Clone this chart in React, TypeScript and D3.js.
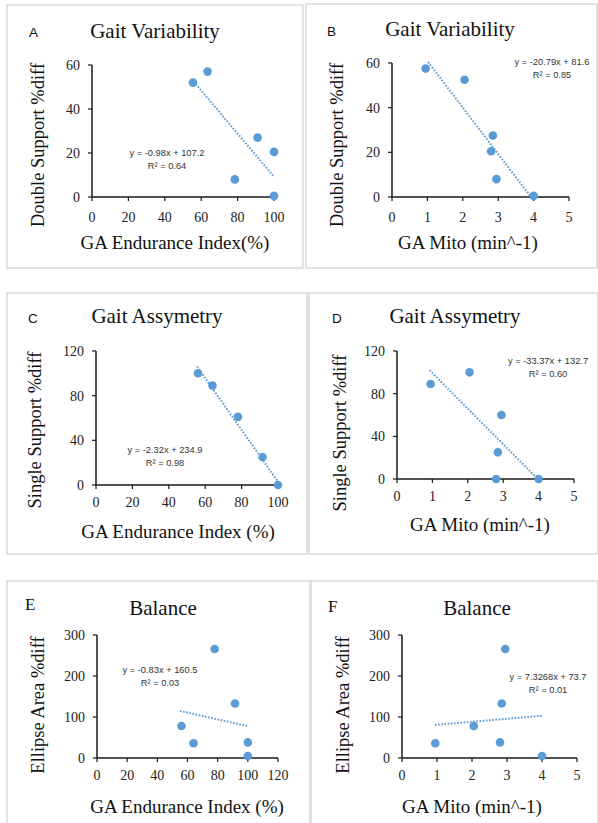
import React from "react";
import * as d3 from "d3";

// values
const enduranceA = [55.5, 63.5, 78.5, 91, 100, 100];
const doubleSupportA = [52, 57, 8, 27, 20.5, 0.5];
const mitoB = [0.95, 2.05, 2.85, 2.8, 2.95, 4];
const doubleSupportB = [57.5, 52.5, 27.5, 20.5, 8, 0.5];
const enduranceC = [56, 64, 78, 91.5, 100];
const singleSupportC = [100, 89, 61, 25, 0];
const mitoD = [0.95, 2.05, 2.95, 2.85, 2.8, 4];
const singleSupportD = [89, 100, 60, 25, 0, 0];
const enduranceE = [56, 64, 78, 91.5, 100, 100];
const ellipseE = [78, 36, 266, 133, 38, 5];
const mitoF = [0.95, 2.05, 2.95, 2.85, 2.8, 4];
const ellipseF = [36, 78, 266, 133, 38, 5];

const ticksEndurance = [0, 20, 40, 60, 80, 100];
const ticksEndurance120 = [0, 20, 40, 60, 80, 100, 120];
const ticksMito = [0, 1, 2, 3, 4, 5];
const ticks60 = [0, 20, 40, 60];
const ticks120 = [0, 40, 80, 120];
const ticks300 = [0, 100, 200, 300];

const equations = [
  ["y = -0.98x + 107.2", "R² = 0.64"],
  ["y = -20.79x + 81.6", "R² = 0.85"],
  ["y = -2.32x + 234.9", "R² = 0.98"],
  ["y = -33.37x + 132.7", "R² = 0.60"],
  ["y = -0.83x + 160.5", "R² = 0.03"],
  ["y = 7.3268x  + 73.7", "R² = 0.01"],
];
const fits = [
  [-0.98, 107.2, 57, 100],
  [-20.79, 81.6, 1.02, 3.93],
  [-2.32, 234.9, 55.5, 100],
  [-33.37, 132.7, 0.92, 3.97],
  [-0.83, 160.5, 55, 99.5],
  [7.3268, 73.7, 0.94, 4.02],
];

const SERIF = "'Liberation Serif', 'Times New Roman', serif";
const SANS = "'Liberation Sans', Arial, sans-serif";
const BLUE = "#5b9bd5";

type PanelCfg = {
  letter: string;
  letterFont: string;
  letterPos: [number, number];
  box: [number, number, number, number];
  title: string;
  titlePos: [number, number];
  xs: number[];
  ys: number[];
  xTicks: number[];
  yTicks: number[];
  xRange: [number, number];
  yRange: [number, number];
  xLabel: string;
  xLabelPos: [number, number];
  yLabel: string;
  yLabelPos: [number, number];
  eqPos: [number, number];
  tickGap: number;
};

const panels: PanelCfg[] = [
  {
    letter: "A", letterFont: SANS, letterPos: [29, 37], box: [7, 5, 303, 268],
    title: "Gait Variability", titlePos: [155, 38],
    xs: enduranceA, ys: doubleSupportA, xTicks: ticksEndurance, yTicks: ticks60,
    xRange: [92, 274], yRange: [197, 65],
    xLabel: "GA Endurance Index(%)", xLabelPos: [175, 249],
    yLabel: "Double Support %diff", yLabelPos: [44, 145],
    eqPos: [167, 156], tickGap: 25,
  },
  {
    letter: "B", letterFont: SANS, letterPos: [327, 36], box: [306, 4, 597, 268],
    title: "Gait Variability", titlePos: [450, 36],
    xs: mitoB, ys: doubleSupportB, xTicks: ticksMito, yTicks: ticks60,
    xRange: [392, 569], yRange: [197, 63],
    xLabel: "GA Mito  (min^-1)", xLabelPos: [468, 249],
    yLabel: "Double Support %diff", yLabelPos: [343, 145],
    eqPos: [552, 65], tickGap: 25,
  },
  {
    letter: "C", letterFont: SANS, letterPos: [28, 323], box: [7, 293, 307, 554],
    title: "Gait Assymetry", titlePos: [157, 323],
    xs: enduranceC, ys: singleSupportC, xTicks: ticksEndurance, yTicks: ticks120,
    xRange: [96, 278], yRange: [485, 351],
    xLabel: "GA Endurance Index (%)", xLabelPos: [178, 538],
    yLabel: "Single Support  %diff", yLabelPos: [41, 430],
    eqPos: [165, 453], tickGap: 22,
  },
  {
    letter: "D", letterFont: SANS, letterPos: [332, 323], box: [309, 293, 598, 554],
    title: "Gait Assymetry", titlePos: [455, 323],
    xs: mitoD, ys: singleSupportD, xTicks: ticksMito, yTicks: ticks120,
    xRange: [397, 574], yRange: [479, 351],
    xLabel: "GA Mito (min^-1)", xLabelPos: [480, 531],
    yLabel: "Single Support %diff", yLabelPos: [346, 433],
    eqPos: [548, 364], tickGap: 22,
  },
  {
    letter: "E", letterFont: SERIF, letterPos: [25, 610], box: [7, 581, 310, 830],
    title: "Balance", titlePos: [163, 615],
    xs: enduranceE, ys: ellipseE, xTicks: ticksEndurance120, yTicks: ticks300,
    xRange: [97, 278], yRange: [758, 635],
    xLabel: "GA Endurance Index (%)", xLabelPos: [187, 813],
    yLabel: "Ellipse Area %diff", yLabelPos: [44, 705],
    eqPos: [160, 673], tickGap: 22,
  },
  {
    letter: "F", letterFont: SERIF, letterPos: [328, 612], box: [311, 581, 598, 830],
    title: "Balance", titlePos: [477, 615],
    xs: mitoF, ys: ellipseF, xTicks: ticksMito, yTicks: ticks300,
    xRange: [402, 577], yRange: [758, 635],
    xLabel: "GA Mito (min^-1)", xLabelPos: [472, 813],
    yLabel: "Ellipse Area %diff", yLabelPos: [349, 705],
    eqPos: [548, 680], tickGap: 22,
  },
];

function Panel({ p, i }: { p: PanelCfg; i: number }) {
  const x = d3.scaleLinear().domain(d3.extent(p.xTicks) as [number, number]).range(p.xRange);
  const y = d3.scaleLinear().domain(d3.extent(p.yTicks) as [number, number]).range(p.yRange);
  const [m, b, x0, x1] = fits[i];
  const line = d3.line<number>().x((v) => x(v)).y((v) => y(m * v + b));
  const pts = p.xs.map((v, k) => [v, p.ys[k]]);
  const [bx0, by0, bx1, by1] = p.box;
  const axisColor = "#1a1a1a";

  return (
    <g>
      <rect x={bx0} y={by0} width={bx1 - bx0} height={by1 - by0} fill="white" stroke="#d9d9d9" strokeWidth={1.5} />
      <text x={p.letterPos[0]} y={p.letterPos[1]} fontFamily={p.letterFont} fontSize={p.letterFont === SANS ? 13.5 : 17} fill="#111">
        {p.letter}
      </text>
      <text x={p.titlePos[0]} y={p.titlePos[1]} textAnchor="middle" fontFamily={SERIF} fontSize={21} fill="#111">
        {p.title}
      </text>

      {/* axes */}
      <line x1={p.xRange[0]} x2={p.xRange[1]} y1={p.yRange[0]} y2={p.yRange[0]} stroke={axisColor} strokeWidth={1.5} />
      <line x1={p.xRange[0]} x2={p.xRange[0]} y1={p.yRange[0]} y2={p.yRange[1]} stroke={axisColor} strokeWidth={1.5} />
      {p.xTicks.map((t) => (
        <g key={"x" + t}>
          <line x1={x(t)} x2={x(t)} y1={p.yRange[0]} y2={p.yRange[0] + 4} stroke={axisColor} strokeWidth={1.2} />
          <text x={x(t)} y={p.yRange[0] + p.tickGap} textAnchor="middle" fontFamily={SERIF} fontSize={14} fill="#222">
            {t}
          </text>
        </g>
      ))}
      {p.yTicks.map((t) => (
        <g key={"y" + t}>
          <line x1={p.xRange[0] - 4} x2={p.xRange[0]} y1={y(t)} y2={y(t)} stroke={axisColor} strokeWidth={1.2} />
          <text x={p.xRange[0] - 12} y={y(t)} dy="0.35em" textAnchor="end" fontFamily={SERIF} fontSize={14} fill="#222">
            {t}
          </text>
        </g>
      ))}

      <text x={p.xLabelPos[0]} y={p.xLabelPos[1]} textAnchor="middle" fontFamily={SERIF} fontSize={19} fill="#111">
        {p.xLabel}
      </text>
      <text
        transform={`translate(${p.yLabelPos[0]},${p.yLabelPos[1]}) rotate(-90)`}
        textAnchor="middle"
        fontFamily={SERIF}
        fontSize={18.5}
        fill="#111"
      >
        {p.yLabel}
      </text>

      {/* trendline */}
      <path d={line([x0, x1]) ?? ""} fill="none" stroke={BLUE} strokeWidth={2} strokeDasharray="1.6 1.6" />

      {pts.map(([a, c], k) => (
        <circle key={k} cx={x(a)} cy={y(c)} r={4.3} fill={BLUE} />
      ))}

      <text x={p.eqPos[0]} y={p.eqPos[1]} textAnchor="middle" fontFamily={SANS} fontSize={9.3} fill="#333">
        {equations[i][0]}
      </text>
      <text x={p.eqPos[0]} y={p.eqPos[1] + 13} textAnchor="middle" fontFamily={SANS} fontSize={9.3} fill="#333">
        {equations[i][1]}
      </text>
    </g>
  );
}

export default function App() {
  return (
    <svg
      width={598}
      height={823}
      style={{ position: "absolute", left: 0, top: 0, background: "white" }}
    >
      {panels.map((p, i) => (
        <Panel key={p.letter} p={p} i={i} />
      ))}
    </svg>
  );
}
